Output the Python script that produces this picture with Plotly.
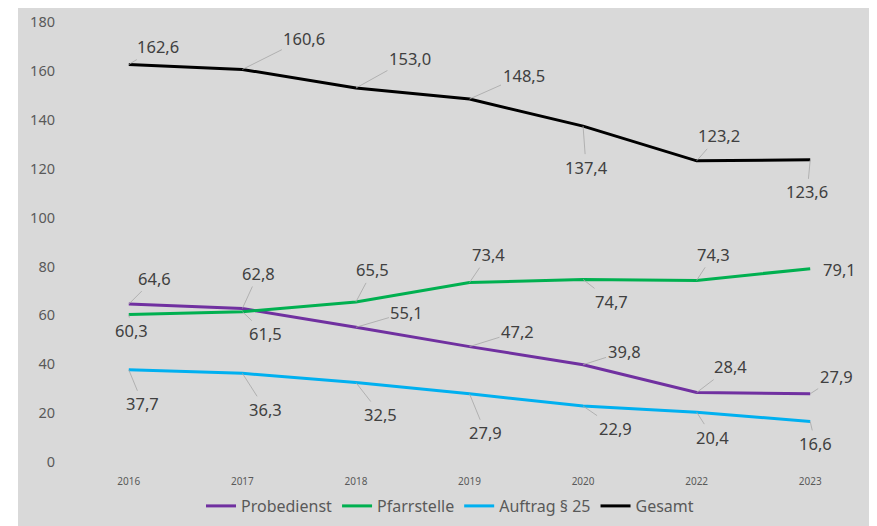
import plotly.graph_objects as go

years = ["2016", "2017", "2018", "2019", "2020", "2022", "2023"]
probedienst = [64.6, 62.8, 55.1, 47.2, 39.8, 28.4, 27.9]
pfarrstelle = [60.3, 61.5, 65.5, 73.4, 74.7, 74.3, 79.1]
auftrag = [37.7, 36.3, 32.5, 27.9, 22.9, 20.4, 16.6]
gesamt = [162.6, 160.6, 153.0, 148.5, 137.4, 123.2, 123.6]
y_ticks = [0, 20, 40, 60, 80, 100, 120, 140, 160, 180]

series = [
    ("Probedienst", probedienst, "#7030A0"),
    ("Pfarrstelle", pfarrstelle, "#00B050"),
    ("Auftrag § 25", auftrag, "#00B0F0"),
    ("Gesamt", gesamt, "#000000"),
]

# label placement offsets (pixels) relative to each point
label_offsets = {
    "Probedienst": [(26, -26), (16, -35), (51, -15), (48, -15), (41, -13), (34, -26), (26, -17)],
    "Pfarrstelle": [(3, 16), (23, 22), (17, -32), (19, -28), (28, 22), (17, -26), (29, 1)],
    "Auftrag § 25": [(14, 34), (23, 36), (25, 32), (16, 39), (32, 22), (16, 25), (5, 22)],
    "Gesamt": [(29, -18), (62, -31), (54, -30), (54, -24), (3, 41), (22, -25), (-3, 32)],
}

fig = go.Figure()
for name, vals, color in series:
    fig.add_trace(go.Scatter(
        x=years, y=vals, name=name, mode="lines",
        line=dict(color=color, width=3),
    ))

label_font = dict(family="Noto Sans", size=16.5, color="#404040")
for name, vals, color in series:
    for i in range(len(years)):
        ax, ay = label_offsets[name][i]
        v = vals[i]
        txt = f"{v:.1f}".replace(".", ",")
        if abs(ay) > 12:
            fig.add_annotation(
                x=i, y=v, xref="x", yref="y", text=txt,
                showarrow=True, ax=ax, ay=ay, axref="pixel", ayref="pixel",
                arrowhead=0, arrowwidth=0.8, arrowcolor="#A6A6A6",
                standoff=0, font=label_font,
            )
        else:
            fig.add_annotation(
                x=i, y=v, xref="x", yref="y", text=txt,
                showarrow=False, xshift=ax, yshift=-ay, font=label_font,
            )

W, H = 877, 526
OFF = 8  # page body margin
# target plot box in window pixels
L, R, T, B = 72, 867, 22, 462
ml, mt = L - OFF, T - OFF
pw, ph = R - L, B - T
mr = W - ml - pw
mb = H - mt - ph


def px_x(p):
    return (p - L) / pw


def px_y(p):
    return (B - p) / ph


fig.update_layout(
    width=W, height=H,
    margin=dict(l=ml, r=mr, t=mt, b=mb, pad=0, autoexpand=False),
    paper_bgcolor="white",
    plot_bgcolor="#D9D9D9",
    shapes=[dict(
        type="rect", xref="paper", yref="paper", layer="below",
        x0=px_x(18), x1=px_x(890), y0=px_y(540), y1=px_y(6),
        fillcolor="#D9D9D9", line=dict(width=0),
    )],
    xaxis=dict(
        type="category", range=[-0.5, 6.5], automargin=False,
        showgrid=False, zeroline=False, showline=False,
        tickfont=dict(family="Noto Sans", size=10, color="#595959"),
        ticks="", ticklabelstandoff=12,
    ),
    yaxis=dict(
        range=[0, 180], tickvals=y_ticks, automargin=False,
        showgrid=False, zeroline=False, showline=False,
        tickfont=dict(family="Noto Sans", size=14.5, color="#595959"),
        ticks="", ticklabelstandoff=16,
    ),
    legend=dict(
        orientation="h", x=px_x(450), xanchor="center",
        y=px_y(506), yanchor="middle",
        font=dict(family="Noto Sans", size=16, color="#595959"),
        bgcolor="rgba(0,0,0,0)", itemwidth=30,
    ),
    showlegend=True,
)

fig.write_html("out.html")
